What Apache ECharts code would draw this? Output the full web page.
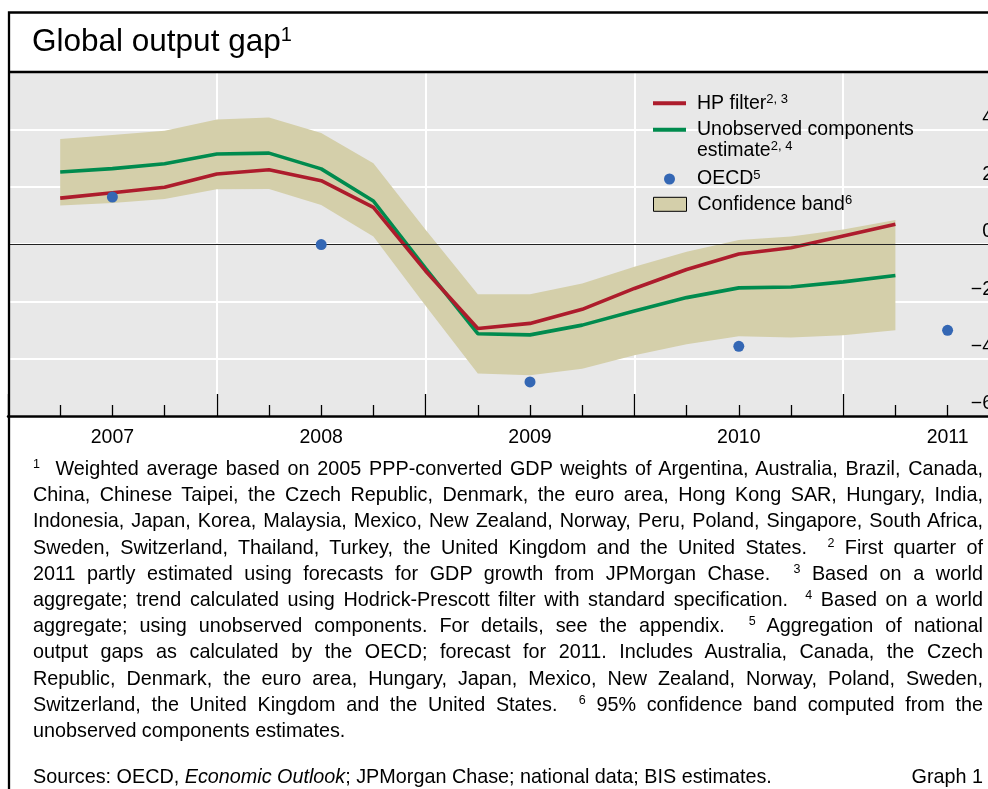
<!DOCTYPE html>
<html>
<head>
<meta charset="utf-8">
<title>Global output gap</title>
<script src="https://cdn.jsdelivr.net/npm/echarts@6/dist/echarts.min.js"></script>
<style>
  html, body { margin: 0; padding: 0; background: #fff; }
  #wrap { position: relative; width: 988px; height: 789px; overflow: hidden; }
  #chart { position: absolute; left: 0; top: 0; width: 988px; height: 789px; }
  .txt { position: absolute; left: 33px; width: 950px; color: #000;
         font-family: Arial, "Liberation Sans", sans-serif; font-size: 19.8px; line-height: 26.2px; }
  #notes { top: 455px; }
  #notes .ln { text-align: justify; text-align-last: justify; white-space: nowrap; }
  #notes .ln.last { text-align-last: left; }
  .txt sup { font-size: 12.5px; position: relative; top: -7px; vertical-align: baseline; line-height: 0; }
  #src { top: 763px; }
  #src span { float: right; }
</style>
</head>
<body>
<div id="wrap">
  <div id="chart"></div>
  <div id="notes" class="txt">
    <div class="ln"><sup>1</sup>&nbsp; Weighted average based on 2005 PPP-converted GDP weights of Argentina, Australia, Brazil, Canada,</div>
    <div class="ln">China, Chinese Taipei, the Czech Republic, Denmark, the euro area, Hong Kong SAR, Hungary, India,</div>
    <div class="ln">Indonesia, Japan, Korea, Malaysia, Mexico, New Zealand, Norway, Peru, Poland, Singapore, South Africa,</div>
    <div class="ln">Sweden, Switzerland, Thailand, Turkey, the United Kingdom and the United States.&nbsp; <sup>2</sup> First quarter of</div>
    <div class="ln">2011 partly estimated using forecasts for GDP growth from JPMorgan Chase.&nbsp; <sup>3</sup> Based on a world</div>
    <div class="ln">aggregate; trend calculated using Hodrick-Prescott filter with standard specification.&nbsp; <sup>4</sup> Based on a world</div>
    <div class="ln">aggregate; using unobserved components. For details, see the appendix.&nbsp; <sup>5</sup> Aggregation of national</div>
    <div class="ln">output gaps as calculated by the OECD; forecast for 2011. Includes Australia, Canada, the Czech</div>
    <div class="ln">Republic, Denmark, the euro area, Hungary, Japan, Mexico, New Zealand, Norway, Poland, Sweden,</div>
    <div class="ln">Switzerland, the United Kingdom and the United States.&nbsp; <sup>6</sup> 95% confidence band computed from the</div>
    <div class="ln last">unobserved components estimates.</div>
  </div>
  <div id="src" class="txt">Sources: OECD, <i>Economic Outlook</i>; JPMorgan Chase; national data; BIS estimates.<span>Graph 1</span></div>
</div>
<script>
// quarterly positions (2007 Q1 .. 2011 Q1), plotted at quarter end
const quarters = [2007.25, 2007.5, 2007.75, 2008, 2008.25, 2008.5, 2008.75, 2009, 2009.25,
  2009.5, 2009.75, 2010, 2010.25, 2010.5, 2010.75, 2011, 2011.25];
const hpFilter = [1.60, 1.79, 1.98, 2.44, 2.59, 2.21, 1.28, -0.94, -2.95, -2.77, -2.28, -1.55, -0.89, -0.35, -0.13, 0.28, 0.69];
const ucEstimate = [2.51, 2.63, 2.80, 3.14, 3.17, 2.62, 1.50, -0.85, -3.13, -3.17, -2.83, -2.34, -1.87, -1.53, -1.50, -1.32, -1.10];
const bandUpper = [3.66, 3.80, 3.95, 4.34, 4.41, 3.87, 2.82, 0.50, -1.75, -1.75, -1.38, -0.79, -0.27, 0.14, 0.26, 0.51, 0.84];
const bandLower = [1.34, 1.43, 1.57, 1.91, 1.92, 1.36, 0.26, -2.15, -4.52, -4.58, -4.35, -3.88, -3.50, -3.22, -3.26, -3.18, -3.01];
// OECD annual estimates, placed mid-year
const oecdYears = [2007.5, 2008.5, 2009.5, 2010.5, 2011.5];
const oecdGap = [1.64, -0.02, -4.81, -3.57, -3.01];
const yearLabels = ['2007', '2008', '2009', '2010', '2011'];

const FONT = 'Arial, "Liberation Sans", sans-serif';
const RED = '#ad1c2c', GREEN = '#008b4e', BLUE = '#3467b4', BAND = '#d4cfaa';

const pairs = (ys) => quarters.map((q, i) => [q, ys[i]]);
// value first so the stack runs along y (both axes are value axes)
const bandRows = (ys) => quarters.map((q, i) => [ys[i], q]);
const supStyle = { fontSize: 13, lineHeight: 10, verticalAlign: 'top', fontFamily: FONT, color: '#000' };

function legendBox(name, top, opts) {
  return Object.assign({
    data: [name],
    left: 653,
    top: top,
    padding: 0,
    orient: 'vertical',
    selectedMode: false,
    itemWidth: 33,
    itemHeight: 4,
    textStyle: {
      fontSize: 19.5, lineHeight: 21, fontFamily: FONT, color: '#000',
      padding: [0, 0, 0, 6],
      rich: { s: supStyle }
    }
  }, opts);
}

const myChart = echarts.init(document.getElementById('chart'));
myChart.setOption({
  animation: false,
  title: {
    text: '{t|Global output gap}{s|1}',
    left: 32,
    top: 25.5,
    padding: 0,
    textStyle: {
      fontWeight: 'normal',
      rich: {
        t: { fontSize: 31.5, lineHeight: 34, fontFamily: FONT, fontWeight: 'normal', color: '#000' },
        s: { fontSize: 20, lineHeight: 17, verticalAlign: 'top', fontFamily: FONT, fontWeight: 'normal', color: '#000' }
      }
    }
  },
  grid: {
    left: 8, right: -64, top: 72, bottom: 373,
    show: true, backgroundColor: '#e8e8e8', borderWidth: 0,
    containLabel: false, outerBoundsMode: 'none'
  },
  xAxis: [{
    type: 'value', min: 2007, max: 2012, interval: 1,
    axisLine: { onZero: false, lineStyle: { color: '#000', width: 2.5 } },
    axisTick: { inside: true, length: 22, lineStyle: { color: '#000', width: 1.3 } },
    minorTick: { show: true, splitNumber: 4, length: 11, lineStyle: { color: '#000', width: 1.3 } },
    splitLine: { show: true, lineStyle: { color: '#fff', width: 2 } },
    axisLabel: { show: false }
  }, {
    // labels sit in the middle of each year
    type: 'value', position: 'bottom', min: 2007, max: 2012, interval: 0.5,
    axisLine: { show: false, onZero: false }, axisTick: { show: false }, splitLine: { show: false },
    axisLabel: {
      margin: 12, fontSize: 19.5, lineHeight: 20, fontFamily: FONT, color: '#000',
      formatter: (v) => {
        const k = Math.round((v - 2007.5) * 2);
        return (k % 2 === 0 && k >= 0) ? (yearLabels[k / 2] || '') : '';
      }
    }
  }],
  yAxis: {
    type: 'value', position: 'right', min: -6, max: 6, interval: 2,
    axisLine: { show: false }, axisTick: { show: false },
    splitLine: { lineStyle: { color: '#fff', width: 2 } },
    axisLabel: {
      inside: true, margin: 59, showMaxLabel: false,
      fontSize: 19.5, lineHeight: 20, fontFamily: FONT, color: '#000',
      verticalAlign: 'bottom', padding: [0, 0, 2, 0],
      formatter: (v) => v < 0 ? '\u2212' + Math.abs(v) : String(v)
    }
  },
  legend: [
    legendBox('HP filter', 92.8, {
      data: [{ name: 'HP filter', icon: 'rect', itemStyle: { color: RED } }],
      formatter: 'HP filter{s|2, 3}'
    }),
    legendBox('Unobserved components estimate', 98.3, {
      data: [{ name: 'Unobserved components estimate', icon: 'rect', itemStyle: { color: GREEN } }],
      formatter: 'Unobserved components\nestimate{s|2, 4}',
      textStyle: {
        fontSize: 19.5, lineHeight: 21, fontFamily: FONT, color: '#000',
        padding: [21, 0, 0, 6], rich: { s: supStyle }
      }
    }),
    legendBox('OECD', 168.5, {
      left: 664,
      itemHeight: 11,
      data: [{ name: 'OECD', icon: 'circle', itemStyle: { color: BLUE, opacity: 1 } }],
      formatter: 'OECD{s|5}'
    }),
    legendBox('Confidence band', 193.8, {
      itemHeight: 14,
      data: [{ name: 'Confidence band', icon: 'rect', itemStyle: { color: BAND, borderColor: '#000', borderWidth: 1 } }],
      formatter: 'Confidence band{s|6}'
    })
  ],
  graphic: [
    { type: 'rect', silent: true, z: 100, shape: { x: 9, y: 12.5, width: 1200, height: 1000 },
      style: { fill: 'none', stroke: '#000', lineWidth: 2.3 } },
    { type: 'line', silent: true, z: 100, shape: { x1: 9, y1: 72, x2: 988, y2: 72 },
      style: { stroke: '#000', lineWidth: 2.3 } }
  ],
  series: [
    {
      name: 'bandLower', type: 'line', stack: 'band', stackStrategy: 'all',
      data: bandRows(bandLower), encode: { x: 1, y: 0 },
      symbol: 'none', silent: true,
      lineStyle: { opacity: 0 }
    },
    {
      name: 'Confidence band', type: 'line', stack: 'band', stackStrategy: 'all',
      data: bandRows(bandUpper.map((u, i) => +(u - bandLower[i]).toFixed(2))), encode: { x: 1, y: 0 },
      symbol: 'none', silent: true,
      lineStyle: { opacity: 0 },
      itemStyle: { color: BAND },
      areaStyle: { color: BAND, opacity: 1 },
      markLine: {
        silent: true, symbol: 'none', label: { show: false },
        lineStyle: { color: '#222', width: 1.2, type: 'solid' },
        data: [{ yAxis: 0 }]
      }
    },
    {
      name: 'Unobserved components estimate', type: 'line', data: pairs(ucEstimate),
      symbol: 'none', silent: true,
      lineStyle: { color: GREEN, width: 3.6 }, itemStyle: { color: GREEN }
    },
    {
      name: 'HP filter', type: 'line', data: pairs(hpFilter),
      symbol: 'none', silent: true,
      lineStyle: { color: RED, width: 3.6 }, itemStyle: { color: RED }
    },
    {
      name: 'OECD', type: 'scatter', z: 5,
      data: oecdYears.map((y, i) => [y, oecdGap[i]]),
      symbolSize: 11, silent: true,
      itemStyle: { color: BLUE, opacity: 1 }
    }
  ]
});
</script>
</body>
</html>
